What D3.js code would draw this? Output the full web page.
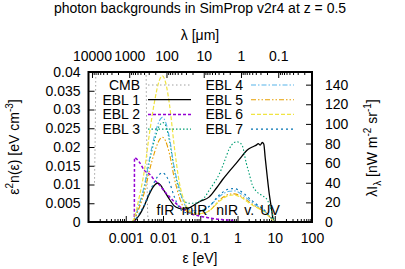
<!DOCTYPE html>
<html>
<head>
<meta charset="utf-8">
<script src="https://cdnjs.cloudflare.com/ajax/libs/d3/7.8.5/d3.min.js"></script>
<style>
  body { margin: 0; background: #fff; }
  svg { display: block; font-family: "Liberation Sans", Arial, sans-serif; font-size: 14px; }
  .axis .domain { display: none; }
  .axis line { stroke: #000; stroke-width: 1; }
  .axis text { font-size: 14px; fill: #000; }
</style>
</head>
<body>
<svg id="chart" width="405" height="269"></svg>
<script>
// energies in eV, values in eV cm^-3
const cmbEnergy = [1.45e-4, 1.52e-4, 1.58e-4, 1.7e-4, 3.3e-3, 3.5e-3, 3.6e-3, 3.7e-3, 3.8e-3, 3.95e-3, 4.1e-3];
const cmbValue = [0.0105, 0.025, 0.042, 0.06, 0.06, 0.042, 0.03, 0.015, 0.006, 0.001, 0];

const ebl1Energy = [0.0015, 0.0017, 0.0023, 0.0032, 0.0043, 0.0059, 0.0071, 0.0085, 0.0109, 0.015, 0.02, 0.0275,
  0.0375, 0.051, 0.07, 0.095, 0.175, 0.27, 0.39, 0.6, 0.93, 1.35, 1.83, 2.49, 3.19, 3.61, 4.08, 4.62, 5.07,
  5.56, 6.3, 7.12, 8.05, 8.84, 9.7];
const ebl1Value = [0, 0.0003, 0.0018, 0.0045, 0.0075, 0.0098, 0.0104, 0.0099, 0.0082, 0.006, 0.0043, 0.0036,
  0.0034, 0.0038, 0.0046, 0.0054, 0.0067, 0.009, 0.0112, 0.0135, 0.0157, 0.0177, 0.0192, 0.02, 0.0205, 0.0209,
  0.0205, 0.0212, 0.0208, 0.017, 0.012, 0.0075, 0.004, 0.0012, 0];

const ebl2Energy = [0.0017, 0.00172, 0.0023, 0.0032, 0.0043, 0.0059, 0.008, 0.0109, 0.015, 0.02, 0.0275, 0.0375,
  0.051, 0.095, 0.175, 0.325, 0.6, 0.77];
const ebl2Value = [0, 0.0171, 0.016, 0.0137, 0.0128, 0.0112, 0.0099, 0.0082, 0.0067, 0.0054, 0.0042, 0.0032,
  0.0024, 0.0016, 0.0011, 0.0007, 0.0005, 0.0004];

const ebl3Energy = [0.0015, 0.0017, 0.0023, 0.0032, 0.0043, 0.0059, 0.008, 0.0101, 0.0121, 0.015, 0.02, 0.0275,
  0.0375, 0.051, 0.07, 0.095, 0.129, 0.175, 0.239, 0.325, 0.44, 0.6, 0.82, 0.93, 1.12, 1.35, 1.72, 2.07, 2.49,
  3.19, 4.35, 6.3, 8.05, 9.7];
const ebl3Value = [0, 0.0008, 0.0045, 0.0095, 0.016, 0.0218, 0.0257, 0.0265, 0.0255, 0.0215, 0.0142, 0.0082,
  0.0055, 0.005, 0.005, 0.0055, 0.0065, 0.0085, 0.0105, 0.0128, 0.016, 0.0195, 0.0212, 0.0214, 0.0212, 0.0203,
  0.0157, 0.0128, 0.0099, 0.0082, 0.0072, 0.0059, 0.0032, 0.0005];

// EBL 4-7 share one energy grid
const eblEnergy = [0.0015, 0.0017, 0.0023, 0.0032, 0.0043, 0.0059, 0.008, 0.0096, 0.0116, 0.015, 0.02, 0.0275,
  0.0375, 0.051, 0.07, 0.095, 0.175, 0.325, 0.44, 0.6, 0.82, 1.12, 1.52, 2.07, 2.82, 3.84, 5.23, 7.12, 9.7];
const ebl4Value = [0, 0.0008, 0.0047, 0.01, 0.0167, 0.0229, 0.027, 0.0279, 0.0268, 0.0223, 0.0145, 0.009,
  0.0048, 0.0033, 0.003, 0.003, 0.0042, 0.0068, 0.0077, 0.0082, 0.0083, 0.0078, 0.0069, 0.0058, 0.0048, 0.0039,
  0.003, 0.0016, 0.0002];
const ebl5Value = [0, 0.0007, 0.0038, 0.0081, 0.0136, 0.0185, 0.0219, 0.0226, 0.0217, 0.0181, 0.0118, 0.0066,
  0.0035, 0.0025, 0.0022, 0.0022, 0.003, 0.0058, 0.0068, 0.0074, 0.0075, 0.0071, 0.0063, 0.0053, 0.0044, 0.0036,
  0.0028, 0.0015, 0.0002];
const ebl6Value = [0, 0.0012, 0.0066, 0.014, 0.0234, 0.032, 0.0378, 0.039, 0.0374, 0.0312, 0.0203, 0.0105,
  0.0055, 0.003, 0.0022, 0.0022, 0.003, 0.0055, 0.0065, 0.0071, 0.0072, 0.0068, 0.006, 0.005, 0.0042, 0.0035,
  0.0027, 0.0014, 0.0002];
const ebl7Value = [0, 0.0004, 0.0022, 0.0047, 0.0079, 0.0107, 0.0127, 0.0131, 0.0126, 0.0105, 0.0068, 0.0038,
  0.0026, 0.0024, 0.0025, 0.0028, 0.0042, 0.0072, 0.0082, 0.0088, 0.0089, 0.0084, 0.0075, 0.0063, 0.0052, 0.0042,
  0.0032, 0.0017, 0.0003];

const seriesNames = ['CMB', 'EBL 1', 'EBL 2', 'EBL 3', 'EBL 4', 'EBL 5', 'EBL 6', 'EBL 7'];
const xTicks = [0.001, 0.01, 0.1, 1, 10, 100];
const lambdaTicks = [10000, 1000, 100, 10, 1, 0.1];
const yTicks = [0, 0.005, 0.01, 0.015, 0.02, 0.025, 0.03, 0.035, 0.04];
const y2Ticks = [0, 20, 40, 60, 80, 100, 120, 140];
const bandLabels = ['fIR', 'mIR', 'nIR', 'v.', 'UV'];
const bandEnergy = [0.0116, 0.07, 0.53, 2.07, 7.5];

const hc = 1.2398; // eV um
const y2Max = 152.9; // 0.04 eV cm^-3 in nW m^-2 sr^-1

const pairs = (e, v) => e.map((d, i) => [d, v[i]]);
const series = [
  { data: pairs(cmbEnergy, cmbValue), color: '#a0a0a0', dash: '1.5,2.5', width: 1 },
  { data: pairs(ebl1Energy, ebl1Value), color: '#000000', dash: null, width: 1.3 },
  { data: pairs(ebl2Energy, ebl2Value), color: '#9400d3', dash: '3,2', width: 1.5 },
  { data: pairs(ebl3Energy, ebl3Value), color: '#009e73', dash: '1.5,2', width: 1.1 },
  { data: pairs(eblEnergy, ebl4Value), color: '#56b4e9', dash: '5,2,1.5,2', width: 1.1 },
  { data: pairs(eblEnergy, ebl5Value), color: '#e69f00', dash: '5,2,1.5,2,1.5,2', width: 1.1 },
  { data: pairs(eblEnergy, ebl6Value), color: '#f0e442', dash: '4,2', width: 1.2 },
  { data: pairs(eblEnergy, ebl7Value), color: '#0072b2', dash: '2,3', width: 1.1 },
];

const plot = { left: 88.5, right: 312, top: 72, bottom: 222 };

const xScale = d3.scaleLog().domain([1e-4, 100]).range([plot.left, plot.right]);
const lambdaScale = d3.scaleLog().domain([hc / 1e-4, hc / 100]).range([plot.left, plot.right]);
const yScale = d3.scaleLinear().domain([0, 0.04]).range([plot.bottom, plot.top]);
const y2Scale = d3.scaleLinear().domain([0, y2Max]).range([plot.bottom, plot.top]);

const svg = d3.select('#chart');

svg.append('defs').append('clipPath').attr('id', 'clip')
  .append('rect')
  .attr('x', plot.left).attr('y', plot.top)
  .attr('width', plot.right - plot.left).attr('height', plot.bottom - plot.top);

// minor tick values
const minorX = [];
for (let n = -4; n <= 1; n++) for (let k = 2; k <= 9; k++) minorX.push(k * 10 ** n);
const minorL = [];
for (let n = -2; n <= 4; n++) for (let k = 2; k <= 9; k++) {
  const v = k * 10 ** n;
  if (v > hc / 100 && v < hc / 1e-4) minorL.push(v);
}

const fmtNum = d => String(+d.toPrecision(6));

// bottom axis
svg.append('g').attr('class', 'axis')
  .attr('transform', `translate(0,${plot.bottom})`)
  .call(d3.axisBottom(xScale).tickValues(xTicks).tickSize(-6).tickPadding(11).tickFormat(fmtNum));
svg.append('g').attr('class', 'axis')
  .attr('transform', `translate(0,${plot.bottom})`)
  .call(d3.axisBottom(xScale).tickValues(minorX).tickSize(-3).tickFormat(''));

// top axis (wavelength)
svg.append('g').attr('class', 'axis')
  .attr('transform', `translate(0,${plot.top})`)
  .call(d3.axisTop(lambdaScale).tickValues(lambdaTicks).tickSize(-6).tickPadding(11).tickFormat(fmtNum));
svg.append('g').attr('class', 'axis')
  .attr('transform', `translate(0,${plot.top})`)
  .call(d3.axisTop(lambdaScale).tickValues(minorL).tickSize(-3).tickFormat(''));

// left axis
svg.append('g').attr('class', 'axis')
  .attr('transform', `translate(${plot.left},0)`)
  .call(d3.axisLeft(yScale).tickValues(yTicks).tickSize(-6).tickPadding(8).tickFormat(fmtNum));

// right axis
svg.append('g').attr('class', 'axis')
  .attr('transform', `translate(${plot.right},0)`)
  .call(d3.axisRight(y2Scale).tickValues(y2Ticks).tickSize(-6).tickPadding(13).tickFormat(fmtNum));

// curves
const line = d3.line()
  .x(d => xScale(d[0]))
  .y(d => yScale(d[1]))
  .curve(d3.curveMonotoneX);

const curves = svg.append('g').attr('clip-path', 'url(#clip)');
series.forEach(s => {
  curves.append('path')
    .datum(s.data)
    .attr('d', line)
    .attr('fill', 'none')
    .attr('stroke', s.color)
    .attr('stroke-width', s.width)
    .attr('stroke-dasharray', s.dash);
});

// band labels
svg.append('g').selectAll('text')
  .data(bandLabels)
  .join('text')
  .attr('x', (d, i) => xScale(bandEnergy[i]))
  .attr('y', yScale(0.0019))
  .attr('text-anchor', 'middle')
  .text(d => d);

// legend
const legend = svg.append('g');
seriesNames.forEach((name, i) => {
  const col = Math.floor(i / 4);
  const row = i % 4;
  const textX = col === 0 ? 140 : 243;
  const cy = 85 + row * 14.7;
  legend.append('text')
    .attr('x', textX).attr('y', cy).attr('dy', '0.35em')
    .attr('text-anchor', 'end')
    .text(name);
  legend.append('line')
    .attr('x1', textX + 8).attr('x2', textX + 51)
    .attr('y1', cy).attr('y2', cy)
    .attr('stroke', series[i].color)
    .attr('stroke-width', series[i].width)
    .attr('stroke-dasharray', series[i].dash);
});

// border
svg.append('rect')
  .attr('x', plot.left).attr('y', plot.top)
  .attr('width', plot.right - plot.left).attr('height', plot.bottom - plot.top)
  .attr('fill', 'none').attr('stroke', '#000').attr('stroke-width', 2);

// titles
svg.append('text').attr('x', 200).attr('y', 13).attr('text-anchor', 'middle')
  .text('photon backgrounds in SimProp v2r4 at z = 0.5');
svg.append('text').attr('x', 200).attr('y', 40).attr('text-anchor', 'middle')
  .text('λ [μm]');
svg.append('text').attr('x', 200).attr('y', 263).attr('text-anchor', 'middle')
  .text('ε [eV]');

const yLab = svg.append('text')
  .attr('transform', 'translate(19,147) rotate(-90)')
  .attr('text-anchor', 'middle');
yLab.append('tspan').text('ε');
yLab.append('tspan').attr('dy', -6).attr('font-size', 10).text('2');
yLab.append('tspan').attr('dy', 6).text('n(ε) [eV cm');
yLab.append('tspan').attr('dy', -6).attr('font-size', 10).text('-3');
yLab.append('tspan').attr('dy', 6).text(']');

const y2Lab = svg.append('text')
  .attr('transform', 'translate(377,148) rotate(-90)')
  .attr('text-anchor', 'middle');
y2Lab.append('tspan').text('λI');
y2Lab.append('tspan').attr('dy', 4).attr('font-size', 10).text('λ');
y2Lab.append('tspan').attr('dy', -4).text(' [nW m');
y2Lab.append('tspan').attr('dy', -6).attr('font-size', 10).text('-2');
y2Lab.append('tspan').attr('dy', 6).text(' sr');
y2Lab.append('tspan').attr('dy', -6).attr('font-size', 10).text('-1');
y2Lab.append('tspan').attr('dy', 6).text(']');
</script>
</body>
</html>
